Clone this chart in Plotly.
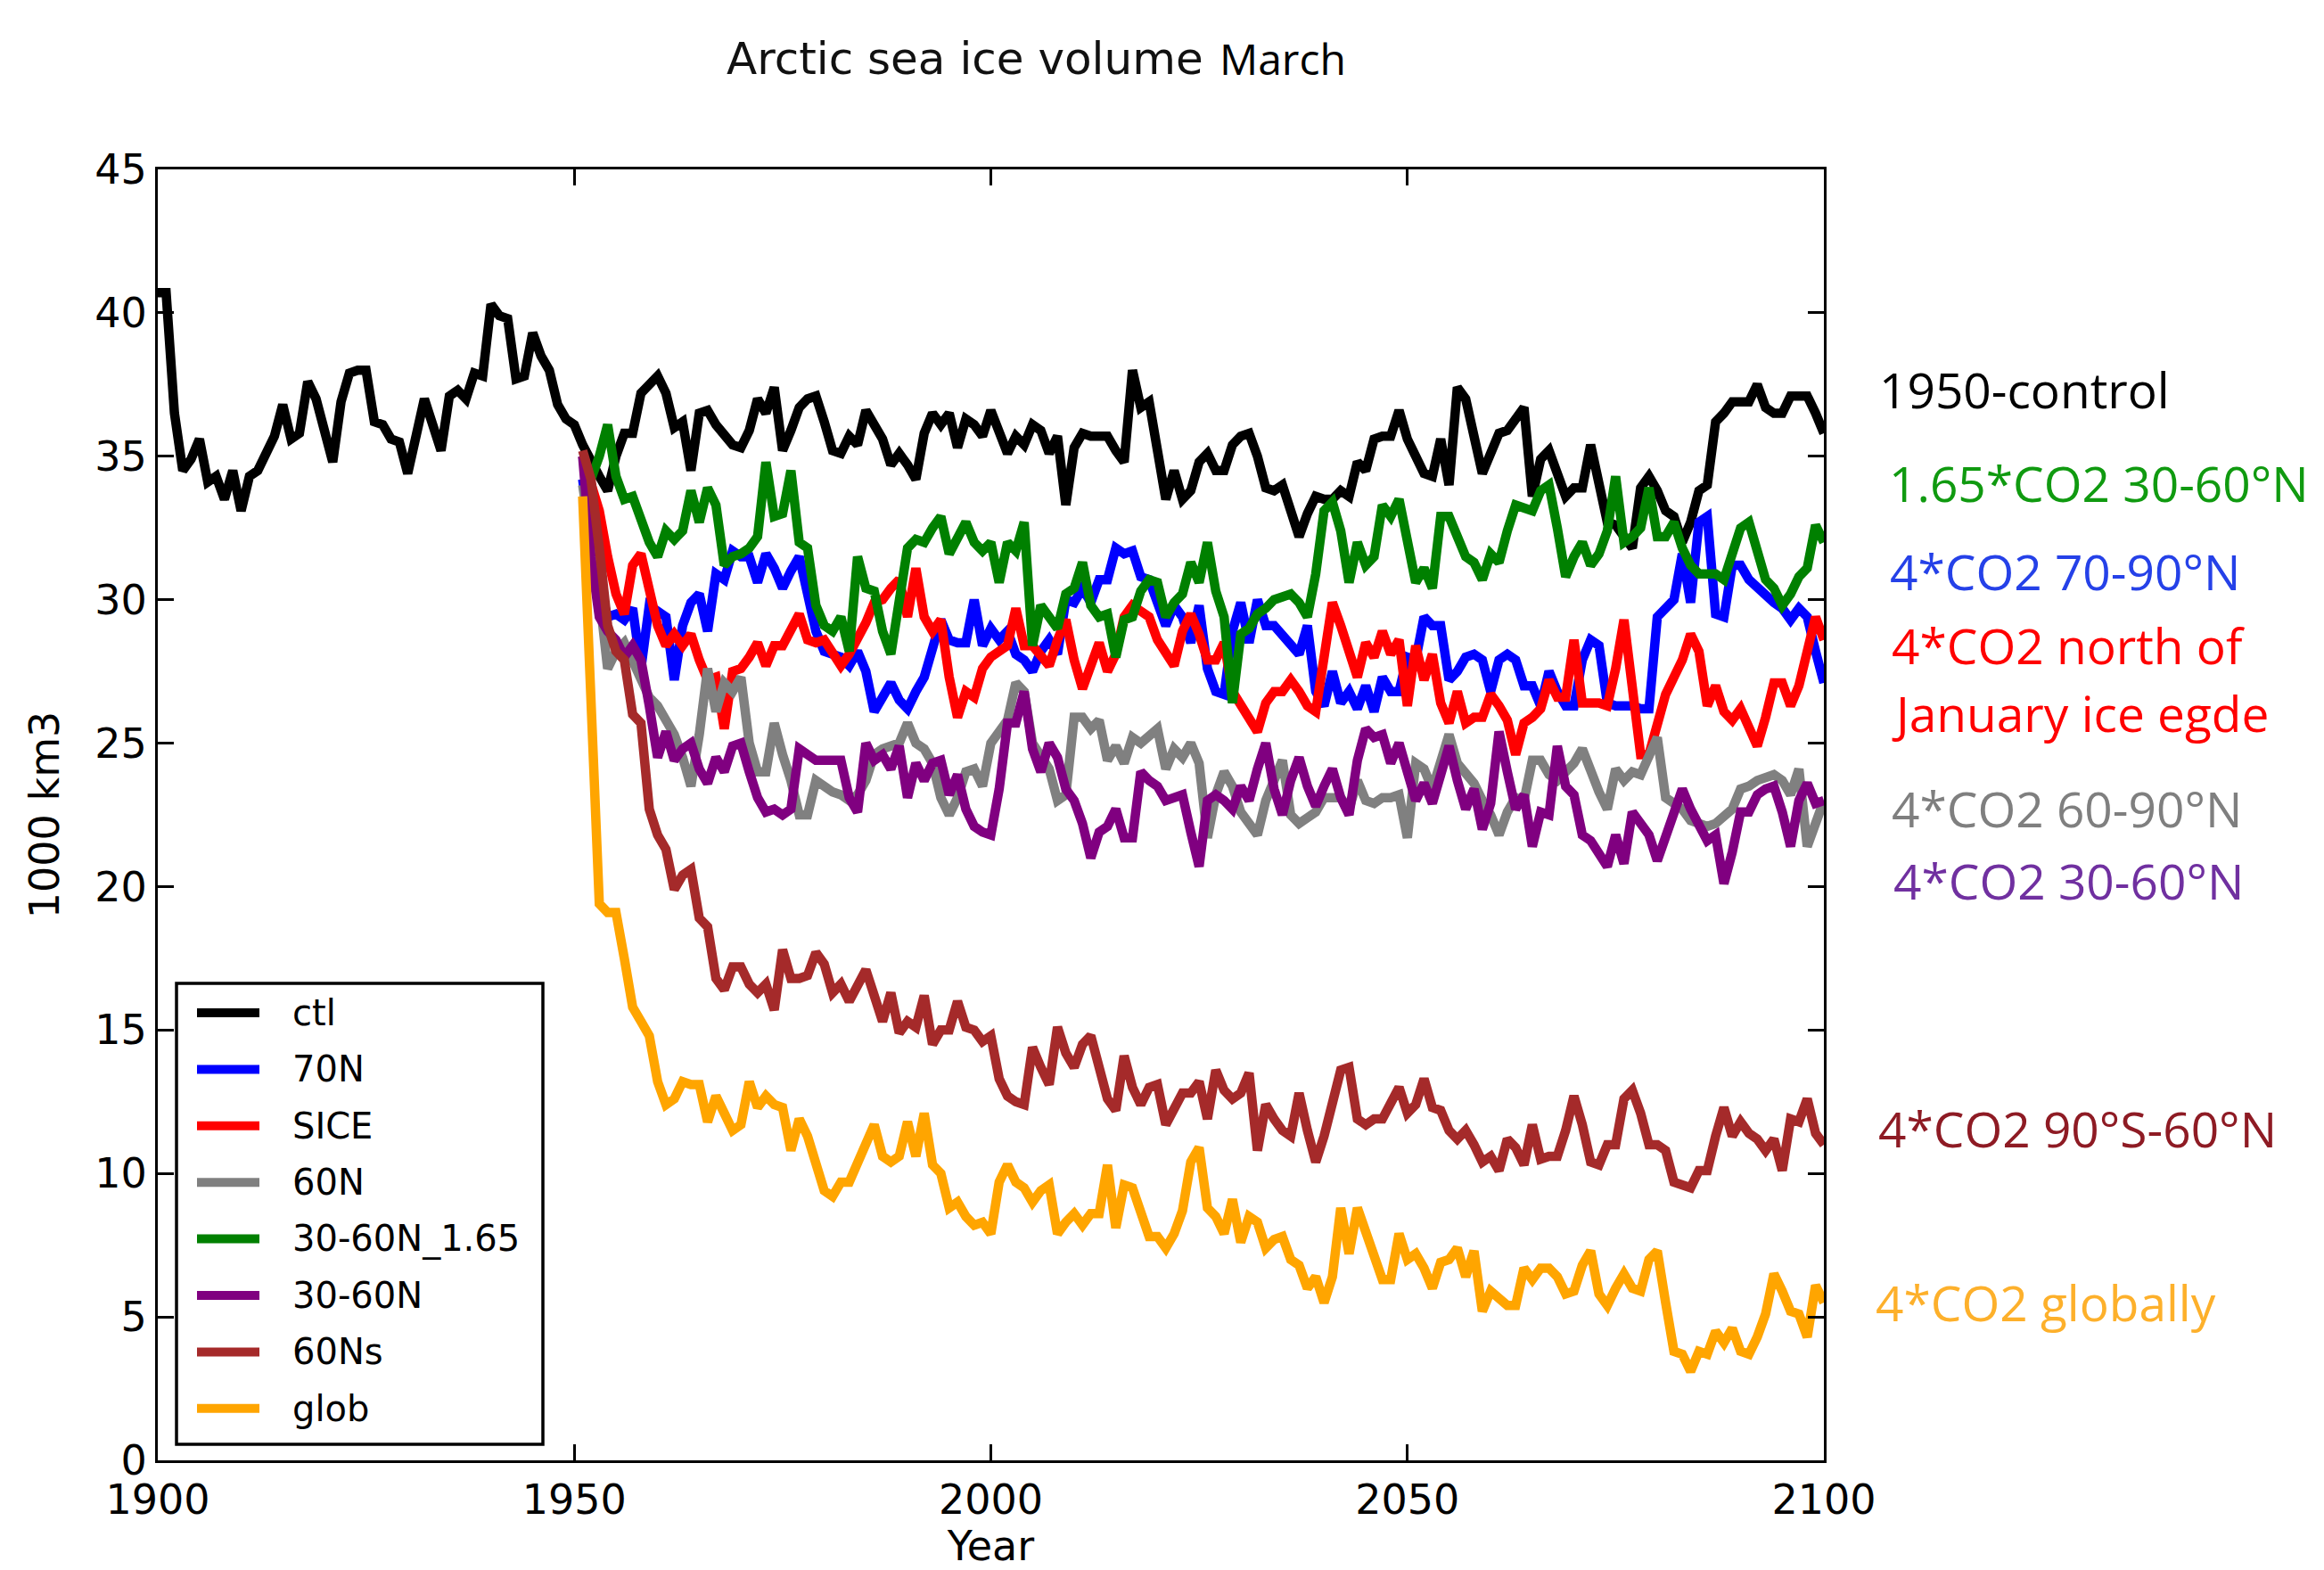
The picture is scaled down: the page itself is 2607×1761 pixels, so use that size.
import plotly.graph_objects as go

# ---------------- data ----------------
years_ctl = list(range(1900, 2101))
years_exp = list(range(1951, 2101))

ctl = [
    40.7, 40.7, 36.5, 34.5, 34.9, 35.6, 34.1, 34.3, 33.5, 34.5,
    33.1, 34.3, 34.5, 35.1, 35.7, 36.8, 35.6, 35.8, 37.6, 37.0,
    35.9, 34.8, 36.9, 37.9, 38.0, 38.0, 36.2, 36.1, 35.6, 35.5,
    34.4, 35.8, 37.0, 36.1, 35.2, 37.1, 37.3, 37.0, 37.9, 37.8,
    40.3, 39.9, 39.8, 37.7, 37.8, 39.3, 38.5, 38.0, 36.8, 36.3,
    36.1, 35.4, 34.8, 34.3, 33.8, 35.0, 35.8, 35.8, 37.2, 37.5,
    37.8, 37.2, 36.0, 36.2, 34.5, 36.5, 36.6, 36.1, 35.7, 35.4,
    35.3, 35.9, 37.0, 36.5, 37.4, 35.2, 35.9, 36.7, 37.0, 37.1,
    36.2, 35.2, 35.1, 35.7, 35.4, 36.6, 36.1, 35.6, 34.7, 35.1,
    34.7, 34.2, 35.8, 36.5, 36.1, 36.5, 35.3, 36.3, 36.1, 35.7,
    36.6, 35.8, 35.1, 35.7, 35.4, 36.1, 35.9, 35.1, 35.7, 33.3,
    35.3, 35.8, 35.7, 35.7, 35.7, 35.2, 34.8, 38.0, 36.7, 36.9,
    35.3, 33.5, 34.5, 33.5, 33.8, 34.8, 35.1, 34.5, 34.5, 35.4,
    35.7, 35.8, 35.0, 33.9, 33.8, 34.0, 33.1, 32.2, 33.0, 33.6,
    33.5, 33.5, 33.8, 33.6, 34.8, 34.5, 35.6, 35.7, 35.7, 36.6,
    35.6, 35.0, 34.4, 34.3, 35.6, 34.0, 37.4, 37.0, 35.8, 34.4,
    35.1, 35.8, 35.9, 36.3, 36.7, 33.6, 34.9, 35.2, 34.5, 33.6,
    33.9, 33.9, 35.4, 34.2, 32.7, 32.6, 32.2, 31.8, 33.9, 34.3,
    33.8, 33.1, 32.9, 32.0, 32.7, 33.8, 34.0, 36.2, 36.5, 36.9,
    36.9, 36.9, 37.5, 36.7, 36.5, 36.5, 37.1, 37.1, 37.1, 36.5,
    35.8,
]

n70 = [
    34.2, 32.0, 30.5, 29.4, 29.5, 29.3, 29.7, 27.6, 29.8, 29.6,
    29.4, 27.2, 29.1, 29.9, 30.2, 28.9, 30.9, 30.7, 31.7, 31.5,
    31.5, 30.6, 31.6, 31.1, 30.4, 31.0, 31.5, 30.2, 28.9, 28.2,
    28.1, 28.0, 27.7, 28.2, 27.5, 26.1, 26.6, 27.1, 26.5, 26.2,
    26.8, 27.3, 28.3, 29.3, 28.6, 28.5, 28.5, 30.0, 28.4, 29.0,
    28.6, 28.9, 28.1, 27.9, 27.5, 28.2, 28.6, 28.1, 30.0, 29.9,
    30.4, 29.9, 30.7, 30.7, 31.8, 31.6, 31.7, 30.8, 30.7, 29.9,
    29.1, 29.8, 29.4, 28.5, 29.8, 27.6, 26.8, 26.7, 28.9, 29.9,
    28.5, 30.0, 29.1, 29.1, 28.8, 28.5, 28.1, 29.1, 26.8, 26.3,
    27.5, 26.4, 26.8, 26.2, 27.0, 26.1, 27.3, 26.8, 26.8, 28.0,
    27.9, 29.4, 29.1, 29.1, 27.2, 27.5, 28.0, 28.1, 27.9, 26.8,
    27.9, 28.1, 27.9, 27.0, 27.0, 26.3, 27.5, 26.8, 26.3, 26.3,
    27.9, 28.6, 28.4, 26.4, 26.3, 26.3, 26.3, 26.2, 26.2, 29.4,
    29.7, 30.0, 31.6, 29.9, 32.7, 32.9, 29.5, 29.4, 31.2, 31.2,
    30.7, 30.4, 30.2, 29.9, 29.7, 29.3, 29.7, 29.4, 28.2, 27.1,
]

sice = [
    35.0, 34.0, 33.1, 31.5, 30.2, 29.5, 31.2, 31.6, 30.2, 29.1,
    28.4, 28.8, 28.4, 28.8, 27.9, 27.2, 27.3, 25.5, 27.5, 27.6,
    28.0, 28.5, 27.7, 28.4, 28.4, 29.0, 29.5, 28.6, 28.5, 28.6,
    28.2, 27.7, 28.1, 28.6, 29.2, 29.9, 30.0, 30.4, 30.7, 29.4,
    31.1, 29.4, 28.9, 29.3, 27.3, 25.9, 26.8, 26.6, 27.6, 28.0,
    28.2, 28.4, 29.7, 28.4, 28.4, 28.0, 27.7, 28.6, 29.3, 27.9,
    26.9, 27.7, 28.5, 27.5, 28.1, 29.4, 29.8, 29.6, 29.4, 28.6,
    28.1, 27.7, 28.9, 29.5, 28.8, 27.9, 27.9, 28.5, 26.8, 26.3,
    25.9, 25.4, 26.4, 26.8, 26.8, 27.2, 26.8, 26.3, 26.1, 27.9,
    29.9, 29.1, 28.1, 27.3, 28.5, 28.0, 28.9, 28.1, 28.6, 26.3,
    28.4, 27.2, 28.1, 26.4, 25.7, 26.8, 25.7, 25.9, 25.9, 26.7,
    26.3, 25.8, 24.6, 25.7, 25.9, 26.2, 27.2, 26.6, 26.6, 28.6,
    26.4, 26.4, 26.4, 26.3, 27.6, 29.3, 27.0, 24.6, 24.6, 25.7,
    26.7, 27.3, 27.9, 28.8, 28.2, 26.3, 27.0, 26.1, 25.8, 26.2,
    25.5, 24.9, 25.9, 27.1, 27.1, 26.3, 27.0, 28.1, 29.4, 28.6,
]

n60 = [
    34.0, 32.0, 30.2, 27.6, 28.2, 28.5, 27.9, 27.2, 26.6, 26.3,
    25.8, 25.3, 24.5, 23.5, 25.3, 27.6, 26.1, 27.1, 26.8, 27.3,
    25.0, 24.0, 24.0, 25.7, 24.6, 23.7, 22.5, 22.5, 23.7, 23.5,
    23.3, 23.2, 23.0, 23.2, 23.7, 24.6, 24.8, 24.9, 25.0, 25.7,
    25.0, 24.8, 24.3, 23.1, 22.5, 23.1, 24.0, 24.1, 23.5, 25.0,
    25.4, 25.8, 27.1, 26.8, 25.0, 24.6, 24.1, 23.0, 23.2, 25.9,
    25.9, 25.5, 25.8, 24.4, 24.9, 24.3, 25.2, 25.0, 25.3, 25.5,
    24.1, 24.8, 24.5, 25.0, 24.3, 21.7, 23.2, 24.0, 23.5, 22.6,
    22.2, 21.8, 23.0, 23.7, 24.4, 22.5, 22.2, 22.4, 22.6, 23.1,
    23.1, 23.1, 22.7, 23.7, 23.0, 22.9, 23.1, 23.1, 23.2, 21.7,
    24.3, 24.1, 23.4, 24.3, 25.3, 24.3, 23.9, 23.6, 23.0, 22.5,
    21.8, 22.6, 23.1, 23.0, 24.4, 24.4, 23.9, 23.7, 24.0, 24.3,
    24.8, 24.0, 23.3, 22.7, 24.1, 23.7, 24.0, 23.9, 24.5, 25.2,
    23.1, 22.9, 22.7, 22.3, 22.2, 22.1, 22.2, 22.5, 22.7, 23.4,
    23.5, 23.7, 23.8, 23.9, 23.7, 23.2, 24.1, 21.4, 22.2, 23.0,
]

n3060_165 = [
    35.0, 34.2, 35.0, 36.1, 34.3, 33.5, 33.6, 32.7, 32.0, 31.5,
    32.4, 32.1, 32.4, 33.8, 32.7, 33.9, 33.3, 31.2, 31.5, 31.6,
    31.8, 32.2, 34.8, 32.9, 33.0, 34.5, 32.0, 31.8, 29.8, 29.1,
    28.9, 29.4, 28.2, 31.5, 30.4, 30.3, 28.9, 28.1, 29.9, 31.8,
    32.1, 32.0, 32.5, 32.9, 31.6, 32.2, 32.7, 32.0, 31.7, 32.0,
    30.6, 32.0, 31.7, 32.7, 28.4, 29.8, 29.4, 29.0, 30.2, 30.4,
    31.3, 29.8, 29.4, 29.5, 28.0, 29.3, 29.4, 30.3, 30.7, 30.6,
    29.4, 29.9, 30.2, 31.3, 30.6, 32.0, 30.3, 29.4, 26.4, 28.8,
    29.0, 29.5, 29.7, 30.0, 30.1, 30.2, 29.9, 29.4, 30.9, 33.1,
    33.4, 32.4, 30.6, 32.0, 31.2, 31.5, 33.3, 32.9, 33.5, 32.0,
    30.6, 31.1, 30.4, 32.9, 32.9, 32.2, 31.5, 31.3, 30.7, 31.6,
    31.3, 32.4, 33.3, 33.2, 33.1, 33.8, 34.0, 32.5, 30.8, 31.5,
    32.0, 31.2, 31.6, 32.4, 34.3, 32.0, 32.2, 32.5, 33.9, 32.2,
    32.2, 32.7, 31.8, 31.2, 30.9, 30.9, 30.9, 30.7, 31.6, 32.5,
    32.7, 31.6, 30.7, 30.4, 29.8, 30.2, 30.8, 31.1, 32.6, 32.0,
]

n3060 = [
    35.0, 31.5, 29.4, 28.9, 28.6, 28.0, 28.4, 27.9, 26.3, 24.5,
    25.4, 24.4, 24.8, 25.0, 24.1, 23.6, 24.5, 24.0, 24.9, 25.0,
    24.0, 23.1, 22.6, 22.7, 22.5, 22.7, 24.8, 24.6, 24.4, 24.4,
    24.4, 24.4, 23.1, 22.6, 25.0, 24.4, 24.6, 24.1, 24.9, 23.1,
    24.3, 23.7, 24.3, 24.4, 23.2, 23.9, 22.7, 22.1, 21.9, 21.8,
    23.4, 25.7, 25.7, 26.8, 24.8, 24.0, 25.0, 24.5, 23.4, 23.0,
    22.2, 21.0, 21.9, 22.1, 22.7, 21.7, 21.7, 24.0, 23.7, 23.5,
    23.0, 23.1, 23.2, 21.9, 20.7, 23.0, 23.2, 23.0, 22.7, 23.5,
    23.0, 24.1, 25.0, 23.4, 22.5, 23.7, 24.5, 23.5, 22.8, 23.5,
    24.1, 23.1, 22.5, 24.4, 25.5, 25.2, 25.3, 24.3, 25.0, 24.0,
    23.0, 23.6, 22.9, 23.9, 24.9, 23.7, 22.7, 23.4, 22.0, 22.9,
    25.4, 24.0, 22.7, 23.2, 21.4, 22.6, 22.5, 24.9, 23.5, 23.2,
    21.8, 21.6, 21.2, 20.7, 21.8, 20.8, 22.6, 22.2, 21.8, 20.9,
    21.8, 22.6, 23.4, 22.7, 22.1, 21.6, 21.8, 20.1, 21.2, 22.6,
    22.6, 23.2, 23.4, 23.5, 22.6, 21.4, 23.0, 23.6, 22.9, 23.0,
]

n60s = [
    35.2, 34.2, 31.8, 29.1, 28.2, 27.9, 26.0, 25.7, 22.7, 21.8,
    21.3, 19.9, 20.4, 20.6, 18.9, 18.6, 16.8, 16.4, 17.2, 17.2,
    16.6, 16.3, 16.6, 15.7, 17.8, 16.8, 16.8, 16.9, 17.7, 17.3,
    16.3, 16.6, 16.0, 16.6, 17.1, 16.2, 15.3, 16.3, 14.9, 15.3,
    15.1, 16.2, 14.5, 15.0, 15.0, 16.0, 15.1, 15.0, 14.6, 14.8,
    13.3, 12.7, 12.5, 12.4, 14.4, 13.7, 13.1, 15.1, 14.2, 13.7,
    14.5, 14.8, 13.6, 12.6, 12.2, 14.1, 13.0, 12.4, 13.0, 13.1,
    11.7, 12.3, 12.8, 12.8, 13.2, 11.9, 13.6, 12.9, 12.6, 12.8,
    13.5, 10.8, 12.4, 11.9, 11.5, 11.3, 12.8, 11.5, 10.4, 11.3,
    12.4, 13.6, 13.7, 11.9, 11.7, 11.9, 11.9, 12.4, 13.0, 12.1,
    12.4, 13.3, 12.3, 12.2, 11.5, 11.2, 11.5, 11.0, 10.4, 10.6,
    10.1, 11.2, 10.9, 10.3, 11.7, 10.5, 10.6, 10.6, 11.5, 12.7,
    11.7, 10.4, 10.3, 11.0, 11.0, 12.6, 12.9, 12.1, 11.0, 11.0,
    10.8, 9.7, 9.6, 9.5, 10.1, 10.1, 11.3, 12.3, 11.3, 11.8,
    11.4, 11.2, 10.8, 11.2, 10.1, 11.9, 11.8, 12.6, 11.4, 11.0,
]

glob = [
    33.6, 26.3, 19.4, 19.1, 19.1, 17.5, 15.8, 15.3, 14.8, 13.2,
    12.4, 12.6, 13.2, 13.1, 13.1, 11.8, 12.7, 12.1, 11.5, 11.7,
    13.2, 12.3, 12.7, 12.4, 12.3, 10.8, 11.9, 11.3, 10.3, 9.4,
    9.2, 9.7, 9.7, 10.4, 11.0, 11.7, 10.6, 10.4, 10.6, 11.8,
    10.6, 12.1, 10.3, 10.0, 8.8, 9.0, 8.5, 8.2, 8.3, 7.9,
    9.7, 10.3, 9.7, 9.5, 9.0, 9.4, 9.6, 7.9, 8.3, 8.6,
    8.2, 8.6, 8.6, 10.3, 8.1, 9.6, 9.5, 8.7, 7.8, 7.8,
    7.4, 7.9, 8.7, 10.4, 10.9, 8.8, 8.5, 7.9, 9.1, 7.6,
    8.5, 8.3, 7.4, 7.7, 7.8, 7.0, 6.8, 6.0, 6.4, 5.5,
    6.4, 8.8, 7.2, 8.8, 7.9, 7.2, 6.3, 6.3, 7.9, 7.0,
    7.2, 6.7, 6.0, 6.9, 7.0, 7.4, 6.4, 7.3, 5.2, 5.9,
    5.6, 5.4, 5.4, 6.7, 6.3, 6.7, 6.7, 6.4, 5.8, 5.9,
    6.8, 7.3, 5.8, 5.4, 6.0, 6.5, 6.0, 5.9, 7.0, 7.3,
    5.5, 3.8, 3.7, 3.1, 3.8, 3.7, 4.5, 4.1, 4.6, 3.8,
    3.7, 4.3, 5.1, 6.5, 5.9, 5.2, 5.1, 4.3, 6.1, 5.5,
]

series_names = ["ctl", "70N", "SICE", "60N", "30-60N_1.65", "30-60N", "60Ns", "glob"]
series_colors = ["#000000", "#0000ff", "#ff0000", "#808080", "#008000", "#800080", "#a52a2a", "#ffa500"]
series_values = [ctl, n70, sice, n60, n3060_165, n3060, n60s, glob]

x_ticks = [1900, 1950, 2000, 2050, 2100]
y_ticks = [0, 5, 10, 15, 20, 25, 30, 35, 40, 45]

side_labels = ["1950-control", "1.65*CO2 30-60°N", "4*CO2 70-90°N", "4*CO2 north of",
               "January ice egde", "4*CO2 60-90°N", "4*CO2 30-60°N", "4*CO2 90°S-60°N",
               "4*CO2 globally"]
side_colors = ["#000000", "#109a10", "#2541e8", "#ff0000", "#ff0000", "#7f7f7f",
               "#7030a0", "#8e1b24", "#fdb02b"]

# ---------------- layout geometry (pixels) ----------------
W, H = 2607, 1761
PL, PR, PT, PB = 177, 2046, 190, 1638  # plot area


def px_x(px):
    return (px - PL) / (PR - PL)


def px_y(py):
    return (PB - py) / (PB - PT)


fig = go.Figure()
for name, color, vals in zip(series_names, series_colors, series_values):
    xs = years_ctl if name == "ctl" else years_exp
    fig.add_trace(go.Scatter(x=xs, y=vals, mode="lines", name=name,
                             line=dict(color=color, width=10.5), showlegend=False))

TICK_FONT = dict(family="DejaVu Sans", size=46, color="#000000")

fig.update_xaxes(range=[1900, 2100], tickvals=x_ticks, ticktext=[str(v) for v in x_ticks],
                 showgrid=False, zeroline=False, showline=True, linecolor="black", linewidth=3,
                 mirror="allticks", ticks="inside", ticklen=18, tickwidth=3, tickcolor="black",
                 tickfont=TICK_FONT, ticklabelstandoff=2, automargin=False,
                 title=dict(text="Year", font=TICK_FONT, standoff=57))
fig.update_yaxes(range=[0, 45], tickvals=y_ticks, ticktext=[str(v) for v in y_ticks],
                 showgrid=False, zeroline=False, showline=True, linecolor="black", linewidth=3,
                 mirror="allticks", ticks="inside", ticklen=18, tickwidth=3, tickcolor="black",
                 tickfont=TICK_FONT, ticklabelstandoff=0, automargin=False,
                 title=dict(text="1000 km3", font=TICK_FONT, standoff=26))

annotations = []
shapes = []

# title (two parts in two fonts)
annotations.append(dict(text="Arctic sea ice volume", xref="paper", yref="paper",
                        x=px_x(813), y=px_y(66), xanchor="left", yanchor="middle",
                        showarrow=False, font=dict(family="DejaVu Sans", size=50, color="#111111")))
annotations.append(dict(text="March", xref="paper", yref="paper",
                        x=px_x(1366), y=px_y(66), xanchor="left", yanchor="middle",
                        showarrow=False, font=dict(family="Open Sans", size=48, color="#000000")))

# right-hand labels
side_px = [(2106, 437), (2117, 541), (2118, 640), (2120, 723), (2120, 799),
           (2120, 906), (2122, 987), (2105, 1265), (2102, 1460)]
for (sx, sy), txt, col in zip(side_px, side_labels, side_colors):
    annotations.append(dict(text=txt, xref="paper", yref="paper", x=px_x(sx), y=px_y(sy),
                            xanchor="left", yanchor="middle", showarrow=False,
                            font=dict(family="Open Sans", size=55, color=col)))

# legend box (drawn from the series names/colours)
shapes.append(dict(type="rect", xref="paper", yref="paper",
                   x0=px_x(198), x1=px_x(609), y0=px_y(1620), y1=px_y(1103),
                   line=dict(color="black", width=3.5), fillcolor="white", layer="above"))
for i, (name, color) in enumerate(zip(series_names, series_colors)):
    ly = 1136 + 63.4 * i
    shapes.append(dict(type="line", xref="paper", yref="paper",
                       x0=px_x(221), x1=px_x(291), y0=px_y(ly), y1=px_y(ly),
                       line=dict(color=color, width=10), layer="above"))
    annotations.append(dict(text=name, xref="paper", yref="paper", x=px_x(326), y=px_y(ly),
                            xanchor="left", yanchor="middle", showarrow=False,
                            font=dict(family="DejaVu Sans", size=40, color="#000000")))

fig.update_layout(width=W, height=H, autosize=False,
                  margin=dict(l=PL, r=W - PR, t=PT, b=H - PB, pad=0),
                  paper_bgcolor="white", plot_bgcolor="white",
                  showlegend=False, annotations=annotations, shapes=shapes)

fig.write_html("out.html", config={"displayModeBar": False})
